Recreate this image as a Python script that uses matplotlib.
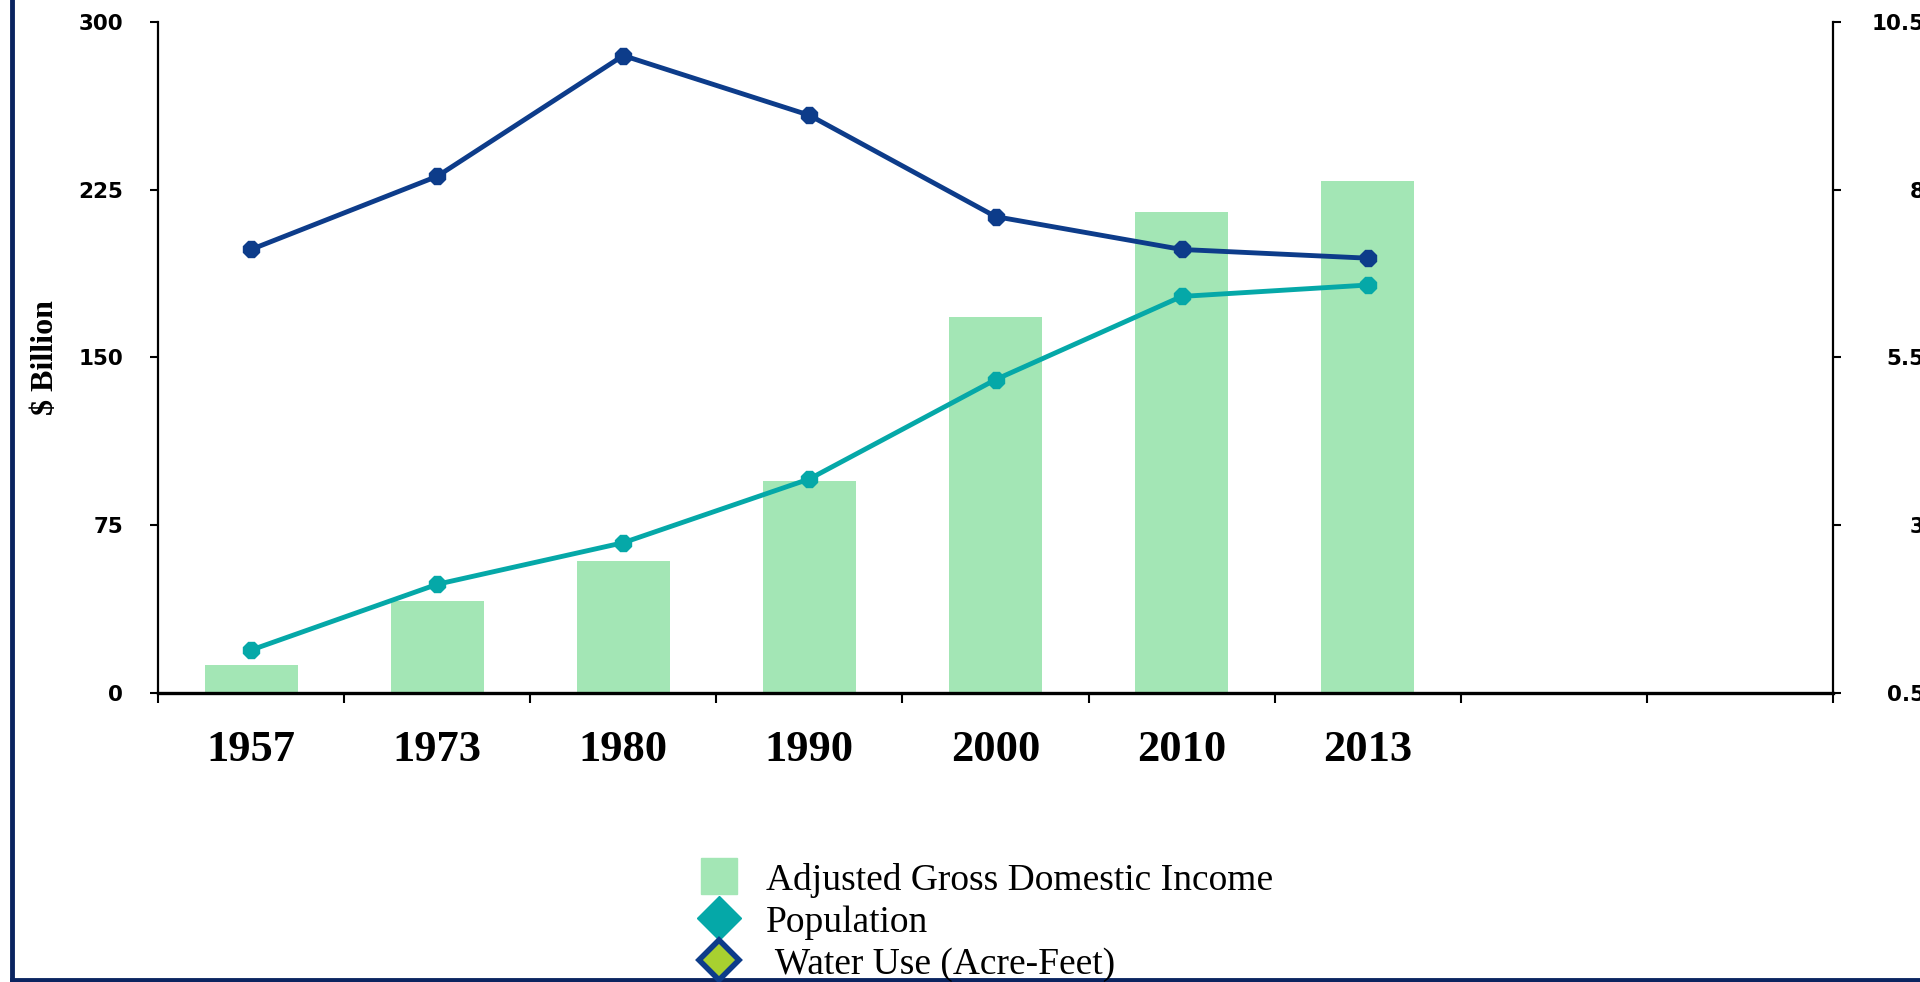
import matplotlib
matplotlib.use("Agg")
import matplotlib.pyplot as plt
from matplotlib.lines import Line2D

# data
years = ['1957', '1973', '1980', '1990', '2000', '2010', '2013', '', '']
income = [12.5, 41, 59, 95, 168, 215, 229]           # $ Billion
population = [1.14, 2.12, 2.74, 3.69, 5.17, 6.41, 6.58]  # millions
water_use = [7.11, 8.2, 10.0, 9.11, 7.6, 7.11, 6.98]     # million acre-feet

left_ticks = [0, 75, 150, 225, 300]
right_ticks = [0.5, 3, 5.5, 8, 10.5]
right_labels = ['0.5', '3', '5.5', '8', '10.5']

bar_color = '#A3E6B5'
pop_color = '#05A8A8'
water_color = '#0D3C8A'
border_color = '#0A2460'

fig = plt.figure(figsize=(19.2, 9.82), dpi=100)
ax = fig.add_axes([0.0823, 0.2943, 0.8724, 0.6833])
ax2 = ax.twinx()

x = list(range(len(years)))
n = len(income)

ax.bar(x[:n], income, width=0.5, color=bar_color, zorder=1)
ax.set_xlim(-0.5, len(years) - 0.5)
ax.set_ylim(0, 300)
ax.set_yticks(left_ticks)
ax.set_yticklabels([str(t) for t in left_ticks], fontsize=15.5, fontweight='bold',
                   family='DejaVu Sans')
ax.tick_params(axis='y', direction='out', length=6, width=1.5, pad=19)

ax.set_xticks(x)
ax.set_xticklabels(years, fontsize=32, fontweight='bold', family='Liberation Serif')
ax.tick_params(axis='x', which='major', length=0, pad=27)
ax.set_xticks([i - 0.5 for i in range(len(years) + 1)], minor=True)
ax.tick_params(axis='x', which='minor', direction='out', length=7, width=1.5)

ax.set_ylabel('$ Billion', fontsize=23, fontweight='bold', family='Liberation Serif',
              labelpad=13)

for s in ['top', 'right']:
    ax.spines[s].set_visible(False)
ax.spines['left'].set_linewidth(1.6)
ax.spines['bottom'].set_linewidth(2.4)

ax2.plot(x[:n], water_use, color=water_color, lw=3.5, marker='8', ms=13, zorder=3)
ax2.plot(x[:n], population, color=pop_color, lw=3.5, marker='8', ms=13, zorder=3)
ax2.set_ylim(0.5, 10.5)
ax2.set_yticks(right_ticks)
ax2.set_yticklabels(right_labels, fontsize=15.5, fontweight='bold', family='DejaVu Sans')
for lbl in ax2.get_yticklabels():
    lbl.set_horizontalalignment('right')
ax2.tick_params(axis='y', direction='out', length=6, width=1.5, pad=60)
for s in ['top', 'left', 'bottom']:
    ax2.spines[s].set_visible(False)
ax2.spines['right'].set_linewidth(1.6)
ax.set_zorder(ax2.get_zorder() - 1)
ax2.patch.set_visible(False)

handles = [
    Line2D([], [], ls='none', marker='s', ms=26, mfc=bar_color, mec=bar_color),
    Line2D([], [], ls='none', marker='D', ms=22, mfc=pop_color, mec=pop_color),
    Line2D([], [], ls='none', marker='D', ms=20, mfc='#A8D030', mec=water_color, mew=4),
]
labels = ['Adjusted Gross Domestic Income', 'Population', ' Water Use (Acre-Feet)']
fig.legend(handles, labels, loc='center left', bbox_to_anchor=(0.3646, 0.061),
           frameon=False, prop={'family': 'Liberation Serif', 'size': 27},
           handlelength=1.0, handletextpad=0.75, labelspacing=0.2,
           borderpad=0, borderaxespad=0)

# navy frame around the picture
fig.add_artist(Line2D([12 / 1920, 12 / 1920], [2 / 982, 1.0], color=border_color,
                      lw=3.5, transform=fig.transFigure))
fig.add_artist(Line2D([12 / 1920, 1.0], [2 / 982, 2 / 982], color=border_color,
                      lw=3.5, transform=fig.transFigure))

fig.savefig('out.png', dpi=100)
